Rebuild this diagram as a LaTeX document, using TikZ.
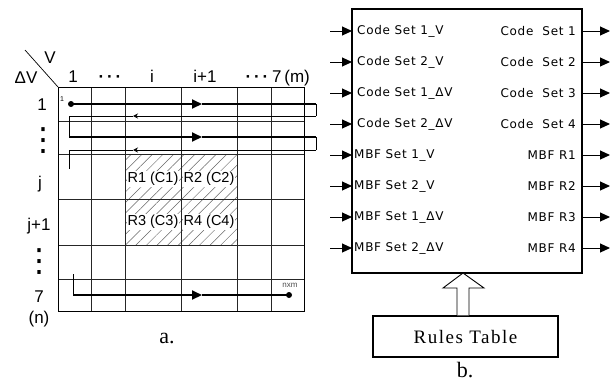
\documentclass[tikz,border=0pt]{standalone}
\usepackage{fontspec}
\setmainfont{Liberation Sans}
\newfontfamily\msfont[LetterSpace=6]{DejaVu Sans}
\newfontfamily\dvfont{DejaVu Sans}
\newfontfamily\serifont[LetterSpace=8]{Liberation Serif}
\newfontfamily\capfont{Liberation Serif}
\usetikzlibrary{arrows.meta,patterns.meta}
\tikzset{
  gridline/.style={line width=0.9pt, draw=black!85},
  thickpath/.style={line width=2pt},
  thinpath/.style={line width=0.8pt},
  bigtip/.style={-{Triangle[length=10pt,width=9pt]}},
  smalltip/.style={-{Stealth[length=5pt,width=5pt]}},
  lab/.style={font=\fontsize{17}{17}\selectfont, inner sep=0pt, anchor=base},
  vdotlab/.style={font=\dvfont\fontsize{32}{32}\selectfont, inner sep=0pt},
  rlab/.style={font=\fontsize{14.5}{14.5}\selectfont, fill=white, inner sep=1pt},
  inlab/.style={font=\msfont\fontsize{12}{12}\selectfont, anchor=west, inner sep=0pt},
  outlab/.style={font=\msfont\fontsize{12}{12}\selectfont, anchor=east, inner sep=0pt},
  ioarrow/.style={line width=1pt, -{Triangle[length=10pt,width=9pt]}},
  dot/.style={circle, fill=black, inner sep=0pt, minimum size=6pt},
}
\begin{document}
\begin{tikzpicture}[x=1pt,y=-1pt]
\useasboundingbox (0,0) rectangle (612,381);
% ---------- panel a ----------
\fill[pattern={Lines[angle=45,distance=7.5pt,line width=0.5pt]}, pattern color=black!60] (125,154) rectangle (237,245);
\foreach \x in {91,125,181,237,271} \draw[gridline] (\x,87) -- (\x,311);
\foreach \y in {121,154,199,245,279} \draw[gridline] (58,\y) -- (304,\y);
\draw[line width=1pt] (58,87) rectangle (304,311);
\coordinate (d1) at (25,50);
\coordinate (d2) at (58,87);
\draw[line width=0.7pt] (d1) -- (d2);
\node[lab] (hv) at (50,63) {V};
\node[lab] (hdv) at (26,83) {ΔV};
\node[lab] (c1) at (73,82) {1};
\node[lab, font=\bfseries\fontsize{17}{17}\selectfont] (c2) at (110,82) {·\,·\,·};
\node[lab] (c3) at (152,82) {i};
\node[lab] (c4) at (205,82) {i+1};
\node[lab, font=\bfseries\fontsize{17}{17}\selectfont] (c5) at (257,82) {·\,·\,·};
\node[lab] (c6) at (291,82) {7\,(m)};
\node[lab] (r1) at (42,110) {1};
\node[vdotlab] (r2) at (43,141) {⋮};
\node[lab] (r3) at (40,188) {j};
\node[lab] (r4) at (39,230) {j+1};
\node[vdotlab] (r5) at (39,262) {⋮};
\node[lab] (r6) at (39,302) {7};
\node[lab] (r7) at (39,323) {(n)};
\node[rlab] (R1) at (153,179) {R1 (C1)};
\node[rlab] (R2) at (209,179) {R2 (C2)};
\node[rlab] (R3) at (153,222) {R3 (C3)};
\node[rlab] (R4) at (209,222) {R4 (C4)};
% snake path
\node[dot] (s) at (71,104) {};
\node[font=\fontsize{7}{7}\selectfont, inner sep=0pt] (one) at (62,99) {1};
\coordinate (m1) at (202,104);
\coordinate (e1) at (316,104);
\coordinate (e1b) at (316,116);
\coordinate (m2) at (133,116);
\coordinate (w2) at (69,116);
\coordinate (w3) at (69,137);
\coordinate (m3) at (202,137);
\coordinate (e3) at (316,137);
\coordinate (e3b) at (316,150);
\coordinate (m4) at (133,150);
\coordinate (w4) at (69,150);
\coordinate (w4b) at (69,169);
\draw[thickpath, bigtip] (s.center) -- (m1);
\draw[thickpath] (m1) -- (e1);
\draw[thinpath] (e1) -- (e1b);
\draw[thinpath, smalltip] (e1b) -- (m2);
\draw[thinpath] (m2) -- (w2) -- (w3);
\draw[thickpath, bigtip] (w3) -- (m3);
\draw[thickpath] (m3) -- (e3);
\draw[thinpath] (e3) -- (e3b);
\draw[thinpath, smalltip] (e3b) -- (m4);
\draw[thinpath] (m4) -- (w4) -- (w4b);
\coordinate (b0) at (73,274);
\coordinate (b1) at (73,295);
\coordinate (bm) at (202,295);
\node[dot] (bend) at (289,295) {};
\node[font=\fontsize{8}{8}\selectfont, text=black!70, inner sep=0pt] (nxm) at (290,285) {nxm};
\draw[thinpath] (b0) -- (b1);
\draw[thickpath, bigtip] (b1) -- (bm);
\draw[thickpath] (bm) -- (bend.center);
\node[font=\capfont\fontsize{22}{22}\selectfont, inner sep=0pt, anchor=base] (capa) at (167,343) {a.};
% ---------- panel b ----------
\draw[line width=1.2pt] (352,9) rectangle (582,273);
\foreach \y/\t in {31/Code Set 1\_V, 62/Code Set 2\_V, 93/Code Set 1\_ΔV, 124/Code Set 2\_ΔV} {
  \coordinate (inS) at (330,\y);
  \coordinate (inE) at (352,\y);
  \draw[ioarrow] (inS) -- (inE);
  \node[inlab] at (357,\y) {\t};
}
\foreach \y/\t in {155/MBF Set 1\_V, 186/MBF Set 2\_V, 217/MBF Set 1\_ΔV, 248/MBF Set 2\_ΔV} {
  \coordinate (inS) at (330,\y);
  \coordinate (inE) at (352,\y);
  \draw[ioarrow] (inS) -- (inE);
  \node[inlab] at (354,\y) {\t};
}
\foreach \y/\t in {31/Code\ \ Set 1, 62/Code\ \ Set 2, 93/Code\ \ Set 3, 124/Code\ \ Set 4, 155/MBF R1, 186/MBF R2, 217/MBF R3, 248/MBF R4} {
  \coordinate (outS) at (582,\y);
  \coordinate (outE) at (610,\y);
  \draw[ioarrow] (outS) -- (outE);
  \node[outlab] at (576,\y) {\t};
}
\node[draw, line width=1.2pt, minimum width=185pt, minimum height=41pt, inner sep=0pt,
      font=\serifont\fontsize{19}{19}\selectfont] (rules) at (465.5,336.5) {Rules Table};
\coordinate (tip) at (463,273);
\draw[line width=0.9pt, fill=white] (rules.north -| 457,0) -- (457,288) -- (443,288) -- (tip) -- (484,288) -- (469,288) -- (rules.north -| 469,0);
\node[font=\capfont\fontsize{22}{22}\selectfont, inner sep=0pt, anchor=base] (capb) at (465,377) {b.};
\end{tikzpicture}
\end{document}
